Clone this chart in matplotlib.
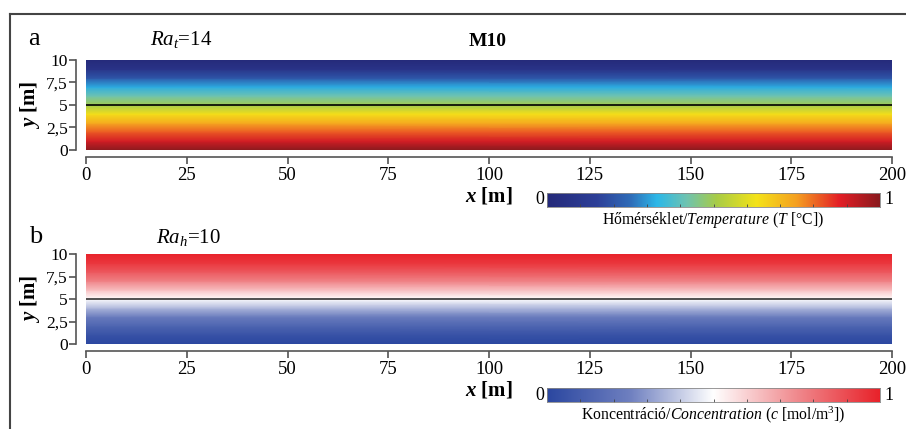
import matplotlib
matplotlib.use("Agg")
import matplotlib.pyplot as plt
import numpy as np
from matplotlib.colors import LinearSegmentedColormap
from matplotlib.lines import Line2D

plt.rcParams['font.family'] = ['Liberation Serif', 'DejaVu Serif']
plt.rcParams['mathtext.fontset'] = 'custom'
plt.rcParams['mathtext.rm'] = 'Liberation Serif'
plt.rcParams['mathtext.it'] = 'Liberation Serif:italic'
plt.rcParams['mathtext.bf'] = 'Liberation Serif:bold'
plt.rcParams['mathtext.bfit'] = 'Liberation Serif:italic:bold'

# ---- data ----
x_ticks = [0, 25, 50, 75, 100, 125, 150, 175, 200]
y_ticks = [0, 2.5, 5, 7.5, 10]
y_tick_labels = ['0', '2,5', '5', '7,5', '10']
x_range = [0, 200]
y_profile = [0, 1, 2, 3, 4, 5, 6, 7, 8, 9, 10]
T_profile = [1.0, 0.90, 0.82, 0.73, 0.64, 0.50, 0.42, 0.32, 0.20, 0.07, 0.0]
c_profile = [0.0, 0.05, 0.13, 0.23, 0.36, 0.50, 0.64, 0.77, 0.87, 0.95, 1.0]
interface_y = 5
Ra_t = 14
Ra_h = 10

temp_stops = [0.0, 0.15, 0.25, 0.33, 0.42, 0.51, 0.63, 0.75, 0.88, 1.0]
temp_colors = ['#252a7a', '#2d3f98', '#2f6cb8', '#2cb8e8', '#6fc3b0', '#a8cc46',
               '#f4e318', '#f5a021', '#e31e26', '#8a1a1e']
conc_colors = ['#2b47a0', '#6f80c0', '#ffffff', '#f08a8e', '#e8222a']

cmap_T = LinearSegmentedColormap.from_list('temp', list(zip(temp_stops, temp_colors)))
cmap_c = LinearSegmentedColormap.from_list('conc', conc_colors)

W, H = 906, 429
fig = plt.figure(figsize=(W / 100, H / 100), dpi=100)

def fr(x0, y0, x1, y1):
    return [x0 / W, 1 - y1 / H, (x1 - x0) / W, (y1 - y0) / H]

def panel(rect, prof, cmap, line_color):
    ax = fig.add_axes(rect)
    X, Y = np.meshgrid(np.array(x_range, dtype=float), np.array(y_profile, dtype=float))
    Z = np.tile(np.array(prof)[:, None], (1, 2))
    ax.pcolormesh(X, Y, Z, cmap=cmap, vmin=0, vmax=1, shading='gouraud')
    ax.axhline(interface_y, color=line_color, lw=1.2)
    ax.set_xlim(x_range)
    ax.set_ylim(0, 10)
    for s in ['top', 'right']:
        ax.spines[s].set_visible(False)
    ax.spines['left'].set_position(('outward', 7))
    ax.spines['bottom'].set_position(('outward', 5))
    ax.spines['left'].set_bounds(0, 10)
    ax.spines['bottom'].set_bounds(0, 200)
    for s in ['left', 'bottom']:
        ax.spines[s].set_color('#555555')
        ax.spines[s].set_linewidth(1.2)
    ax.set_xticks(x_ticks)
    ax.set_yticks(y_ticks)
    ax.set_yticklabels(y_tick_labels)
    ax.tick_params(direction='out', length=5, width=1.1, color='#444444',
                   labelsize=13.5, pad=2)
    ax.tick_params(axis='y', labelsize=12.5, pad=1)
    ax.set_ylabel(r'$\mathbfit{y}$ [m]', fontsize=15, fontweight='bold')
    ax.yaxis.set_label_coords(-0.054, 0.5)
    ax.set_xlabel(r'$\mathbfit{x}$ [m]', fontsize=15, fontweight='bold', labelpad=1)
    return ax

ax1 = panel(fr(86, 60, 892, 150), T_profile, cmap_T, 'black')
ax2 = panel(fr(86, 254, 892, 344), c_profile, cmap_c, '#333333')

def cbar(rect, cmap, label):
    cax = fig.add_axes(rect)
    grad = np.linspace(0, 1, 256)[None, :]
    cax.imshow(grad, aspect='auto', cmap=cmap, extent=[0, 1, 0, 1])
    cax.set_xlim(0, 1)
    cax.set_ylim(0, 1)
    cax.set_xticks(np.arange(0.1, 1.0, 0.1))
    cax.set_xticklabels([])
    cax.set_yticks([])
    cax.tick_params(axis='x', direction='in', length=2, width=0.6, color='#444444')
    for s in cax.spines.values():
        s.set_color('#888888')
        s.set_linewidth(0.6)
    cax.text(-0.008, 0.5, '0', ha='right', va='center', fontsize=13, transform=cax.transAxes)
    cax.text(1.012, 0.5, '1', ha='left', va='center', fontsize=13, transform=cax.transAxes)
    cax.text(0.5, -0.2, label, ha='center', va='top', fontsize=11.3, transform=cax.transAxes)
    return cax

cbar(fr(547, 193, 880, 207), cmap_T, r'Hőmérséklet/$\mathit{Temperature}$ ($\mathit{T}$ [°C])')
cbar(fr(547, 388, 880, 402), cmap_c, r'Koncentráció/$\mathit{Concentration}$ ($\mathit{c}$ [mol/m$^3$])')

fig.text(28 / W, 1 - 39 / H, 'a', fontsize=19, va='center')
fig.text(29 / W, 1 - 237 / H, 'b', fontsize=19, va='center')
fig.text(150 / W, 1 - 40 / H, r'$\mathit{Ra_t}$=%d' % Ra_t, fontsize=15, va='center')
fig.text(156 / W, 1 - 238 / H, r'$\mathit{Ra_h}$=%d' % Ra_h, fontsize=15, va='center')
fig.text(488 / W, 1 - 41 / H, 'M10', fontsize=14, fontweight='bold', va='center', ha='center')

# frame lines
fig.add_artist(Line2D([10 / W, 1], [1 - 14 / H, 1 - 14 / H], transform=fig.transFigure,
                      color='#444444', lw=1.5))
fig.add_artist(Line2D([10 / W, 10 / W], [0, 1 - 14 / H], transform=fig.transFigure,
                      color='#444444', lw=1.5))

fig.savefig('out.png', dpi=100)
